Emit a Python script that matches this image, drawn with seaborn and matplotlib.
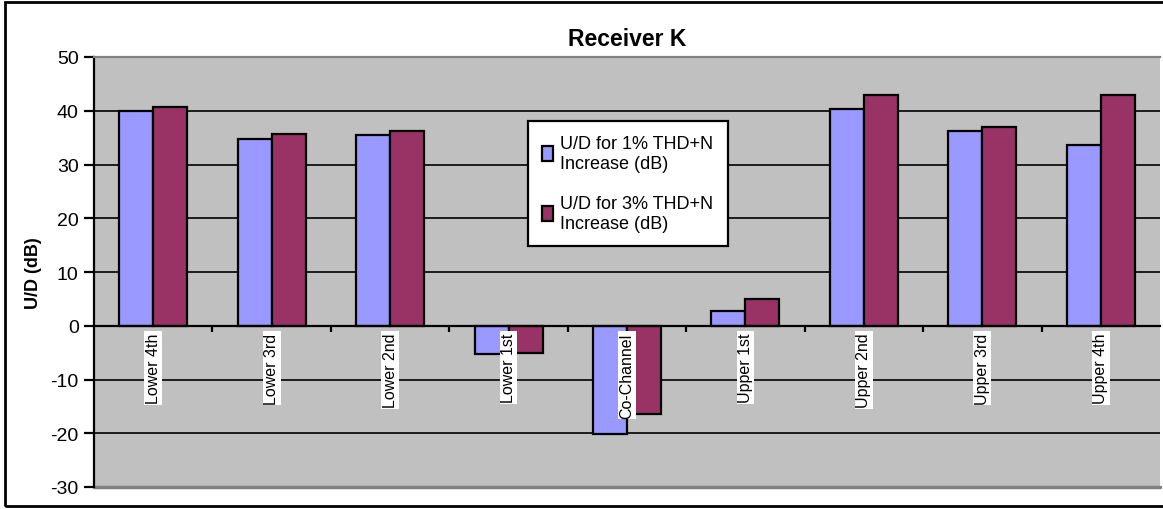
import numpy as np
import pandas as pd
import matplotlib
matplotlib.use('Agg')
import matplotlib.pyplot as plt
from matplotlib.patches import Rectangle
import seaborn as sns

sns.set_theme(style="white")
plt.rcParams['font.family'] = ['Liberation Sans', 'DejaVu Sans']
plt.rcParams['axes.unicode_minus'] = False
plt.rcParams['text.color'] = 'black'
plt.rcParams['axes.labelcolor'] = 'black'
plt.rcParams['xtick.color'] = 'black'
plt.rcParams['ytick.color'] = 'black'

channels = ['Lower 4th', 'Lower 3rd', 'Lower 2nd', 'Lower 1st', 'Co-Channel',
            'Upper 1st', 'Upper 2nd', 'Upper 3rd', 'Upper 4th']
ud_1pct = [40.0, 34.8, 35.5, -5.3, -20.1, 2.8, 40.3, 36.2, 33.6]
ud_3pct = [40.7, 35.6, 36.2, -5.0, -16.5, 5.0, 43.0, 37.0, 43.0]
series = ['U/D for 1% THD+N\nIncrease (dB)', 'U/D for 3% THD+N\nIncrease (dB)']
colors = ['#9999FF', '#993366']
yticks = [-30, -20, -10, 0, 10, 20, 30, 40, 50]

df = pd.DataFrame({
    'channel': channels * 2,
    'value': ud_1pct + ud_3pct,
    'series': [series[0]] * len(channels) + [series[1]] * len(channels),
})

fig = plt.figure(figsize=(11.63, 5.10), dpi=100)
ax = fig.add_axes([94 / 1163, 22 / 510, 1066 / 1163, 430 / 510])
ax.set_facecolor('#C0C0C0')

sns.barplot(data=df, x='channel', y='value', hue='series', order=channels,
            hue_order=series, palette=colors, saturation=1, width=0.575, gap=0,
            edgecolor='black', linewidth=1.6, ax=ax, zorder=3)

ax.set_xlim(-0.5, len(channels) - 0.5)
ax.set_ylim(-30, 50)
ax.set_yticks(yticks)
for y in yticks[1:-1]:
    ax.axhline(y, color='black', lw=1.2, zorder=1)

# x axis crosses at zero
ax.spines['bottom'].set_position(('data', 0))
ax.spines['bottom'].set_color('black')
ax.spines['bottom'].set_linewidth(1.6)
ax.spines['bottom'].set_zorder(4)
ax.spines['left'].set_color('black')
ax.spines['left'].set_linewidth(1.6)
ax.spines['top'].set_color('#808080')
ax.spines['top'].set_linewidth(1.6)
ax.spines['right'].set_visible(False)
ax.axhline(-30, color='#808080', lw=2.5, zorder=1, clip_on=False)

ax.set_xticks(np.arange(len(channels)))
ax.set_xticklabels(channels, rotation=90, fontsize=11.5)
ax.set_xticks(np.arange(len(channels) - 1) + 0.5, minor=True)
ax.tick_params(axis='x', which='major', length=0, pad=5)
ax.tick_params(axis='x', which='minor', bottom=True, length=4, width=1.6,
               color='black', direction='out')
for lbl in ax.get_xticklabels():
    lbl.set_bbox(dict(facecolor='white', edgecolor='none', pad=1))
ax.xaxis.set_zorder(5)
ax.tick_params(axis='y', left=True, length=7, width=1.6, color='black',
               labelsize=14, pad=4)

ax.set_xlabel('')
ax.set_ylabel('U/D (dB)', fontsize=13, fontweight='bold', labelpad=6)
ax.set_title('Receiver K', fontsize=16.5, fontweight='bold', pad=9)

leg = ax.legend(loc='upper left', bbox_to_anchor=(0.407, 0.852), fontsize=13,
                frameon=True, fancybox=False, framealpha=1, handlelength=0.6,
                handleheight=0.9, handletextpad=0.4, labelspacing=1.3,
                borderpad=0.8, borderaxespad=0)
leg.get_frame().set_edgecolor('black')
leg.get_frame().set_linewidth(1.6)
leg.get_frame().set_facecolor('white')
leg.set_zorder(10)

fig.patches.append(Rectangle((5 / 1163, 3 / 510), 1.2, 504 / 510,
                             transform=fig.transFigure, fill=False,
                             edgecolor='black', lw=2, zorder=0))

fig.savefig('out.png', dpi=100)
